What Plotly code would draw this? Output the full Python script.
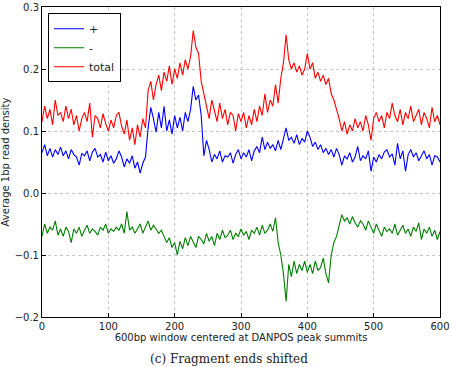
import plotly.graph_objects as go

step = 4
positions = list(range(0, 601, step))

plus_vals = [
    0.065, 0.078, 0.06, 0.072, 0.058, 0.07, 0.062, 0.074, 0.06, 0.068, 0.055,
    0.07, 0.062, 0.058, 0.045, 0.064, 0.06, 0.068, 0.052, 0.066, 0.072,
    0.058, 0.062, 0.05, 0.066, 0.052, 0.06, 0.048, 0.055, 0.068, 0.058,
    0.042, 0.055, 0.048, 0.06, 0.04, 0.05, 0.032, 0.048, 0.058, 0.105,
    0.138, 0.12, 0.098, 0.13, 0.105, 0.14, 0.1, 0.118, 0.095, 0.125,
    0.105, 0.122, 0.1, 0.13, 0.115, 0.135, 0.172, 0.15, 0.158, 0.125,
    0.06, 0.085, 0.07, 0.05, 0.062, 0.055, 0.068, 0.05, 0.06, 0.058,
    0.065, 0.048, 0.062, 0.07, 0.055, 0.065, 0.058, 0.07, 0.052, 0.068,
    0.075, 0.065, 0.09, 0.07, 0.082, 0.072, 0.078, 0.068, 0.085, 0.07,
    0.088, 0.105, 0.085, 0.09, 0.08, 0.094, 0.078, 0.088, 0.082, 0.1,
    0.09, 0.075, 0.082, 0.07, 0.078, 0.065, 0.072, 0.062, 0.07, 0.058,
    0.072, 0.062, 0.045, 0.06, 0.055, 0.065, 0.05, 0.058, 0.075, 0.052,
    0.06, 0.055, 0.068, 0.035, 0.058, 0.05, 0.062, 0.055, 0.066, 0.07,
    0.058, 0.063, 0.045, 0.08, 0.055, 0.068, 0.035, 0.062, 0.07, 0.058,
    0.065, 0.052, 0.06, 0.068, 0.055, 0.062, 0.045, 0.06, 0.058, 0.05,
]

minus_vals = [
    -0.07, -0.05, -0.065, -0.055, -0.06, -0.045, -0.068, -0.058, -0.07, -0.055, -0.062,
    -0.08, -0.058, -0.065, -0.055, -0.07, -0.06, -0.052, -0.065, -0.058, -0.062,
    -0.068, -0.055, -0.06, -0.05, -0.065, -0.058, -0.062, -0.055, -0.06, -0.05,
    -0.065, -0.03, -0.06, -0.055, -0.065, -0.058, -0.05, -0.065, -0.055, -0.045,
    -0.06, -0.052, -0.058, -0.065, -0.06, -0.07, -0.08, -0.072, -0.088, -0.08,
    -0.1, -0.078, -0.09, -0.072, -0.085, -0.07, -0.08, -0.088, -0.07, -0.075,
    -0.082, -0.065, -0.078, -0.07, -0.085, -0.065, -0.075, -0.06, -0.072, -0.068,
    -0.06, -0.075, -0.065, -0.07, -0.058, -0.068, -0.062, -0.075, -0.06, -0.065,
    -0.055, -0.068, -0.052, -0.065, -0.06, -0.05, -0.062, -0.04, -0.08, -0.1,
    -0.13, -0.175, -0.115, -0.135, -0.11, -0.13, -0.115, -0.125, -0.11, -0.128,
    -0.115, -0.13, -0.11, -0.125, -0.12, -0.105, -0.13, -0.145, -0.1, -0.08,
    -0.07, -0.05, -0.035, -0.045, -0.04, -0.05, -0.038, -0.048, -0.055, -0.045,
    -0.05, -0.06, -0.045, -0.055, -0.065, -0.05, -0.06, -0.07, -0.055, -0.062,
    -0.058, -0.065, -0.05, -0.068, -0.06, -0.052, -0.065, -0.058, -0.07, -0.055,
    -0.062, -0.048, -0.075, -0.058, -0.065, -0.055, -0.07, -0.06, -0.075, -0.062,
]

total_vals = [
    0.115, 0.14, 0.12, 0.135, 0.11, 0.15, 0.125, 0.13, 0.115, 0.14, 0.12,
    0.135, 0.11, 0.125, 0.1, 0.12, 0.13, 0.115, 0.145, 0.09, 0.125,
    0.12, 0.105, 0.128, 0.112, 0.1, 0.118, 0.105, 0.125, 0.13, 0.108,
    0.095, 0.118, 0.085, 0.105, 0.078, 0.11, 0.09, 0.12, 0.105, 0.165,
    0.18, 0.15, 0.175, 0.19, 0.165, 0.195, 0.18, 0.205, 0.175, 0.2,
    0.185, 0.21, 0.19, 0.215, 0.2, 0.22, 0.262, 0.235, 0.225, 0.18,
    0.16, 0.145, 0.12, 0.15, 0.13, 0.115, 0.145, 0.12, 0.135, 0.11,
    0.13, 0.125, 0.1, 0.128, 0.115, 0.13, 0.105, 0.125, 0.11, 0.135,
    0.115, 0.14, 0.125, 0.16, 0.13, 0.15, 0.14, 0.175, 0.145, 0.185,
    0.21, 0.255, 0.215, 0.2, 0.21, 0.195, 0.205, 0.19, 0.2, 0.225,
    0.2, 0.21, 0.185, 0.195, 0.18, 0.19, 0.175, 0.185, 0.16, 0.15,
    0.135, 0.12, 0.1, 0.115, 0.095, 0.11, 0.1, 0.12, 0.105, 0.115,
    0.1, 0.125, 0.11, 0.085, 0.12, 0.13, 0.115, 0.125, 0.105, 0.13,
    0.12, 0.145, 0.125, 0.115, 0.135, 0.11, 0.13, 0.12, 0.14, 0.115,
    0.125, 0.135, 0.11, 0.13, 0.12, 0.105, 0.138, 0.115, 0.125, 0.11,
]

series_names = ["+", "-", "total"]
series_colors = ["#0000ff", "#008000", "#ff0000"]
series_data = [plus_vals, minus_vals, total_vals]

x_ticks = [0, 100, 200, 300, 400, 500, 600]
y_ticks = [-0.2, -0.1, 0.0, 0.1, 0.2, 0.3]

fig = go.Figure()
for name, color, vals in zip(series_names, series_colors, series_data):
    fig.add_trace(go.Scatter(x=positions, y=vals, mode="lines", name=name,
                             line=dict(color=color, width=1.1)))

axis_common = dict(
    showline=True, linecolor="black", linewidth=1, mirror=True,
    ticks="inside", ticklen=4, tickcolor="black",
    showgrid=True, gridcolor="#c4c4c4", griddash="dot", gridwidth=1,
    zeroline=False, tickfont=dict(family="DejaVu Sans", size=10, color="#222"),
    ticklabeloverflow="allow", automargin=False,
)

fig.update_xaxes(range=[0, 600], tickvals=x_ticks, **axis_common,
                 title=dict(text="600bp window centered at DANPOS peak summits",
                            font=dict(family="DejaVu Sans", size=10, color="#222"),
                            standoff=2))
fig.update_yaxes(range=[-0.2, 0.3], tickvals=y_ticks, tickformat=".1f", **axis_common,
                 title=dict(text="Average 1bp read density",
                            font=dict(family="DejaVu Sans", size=10, color="#222"),
                            standoff=4))

fig.update_layout(
    width=451, height=367,
    margin=dict(l=42, r=11, t=7, b=50),
    plot_bgcolor="white", paper_bgcolor="white",
    legend=dict(x=0.015, y=0.98, xanchor="left", yanchor="top",
                bordercolor="black", borderwidth=1, bgcolor="white",
                font=dict(family="DejaVu Sans", size=11, color="#222"),
                tracegroupgap=0),
    annotations=[dict(text="(c) Fragment ends shifted", xref="paper", yref="paper",
                      x=0.47, y=-0.105, xanchor="center", yanchor="top",
                      showarrow=False,
                      font=dict(family="DejaVu Serif", size=12, color="#222"))],
)

fig.write_html("out.html")
